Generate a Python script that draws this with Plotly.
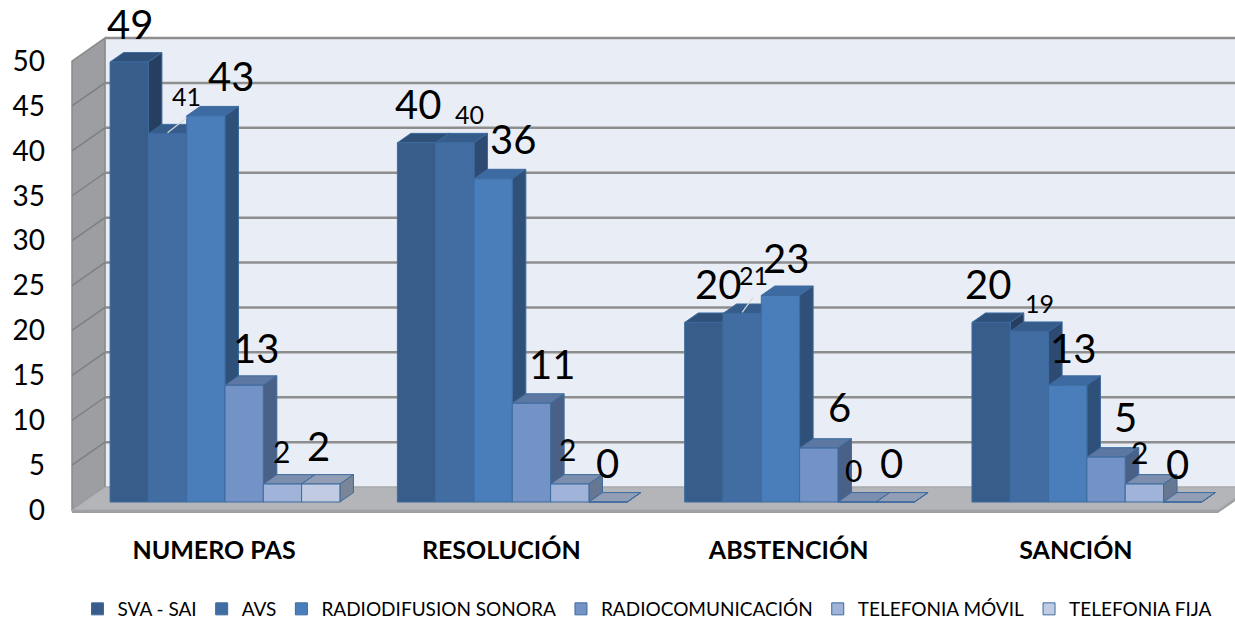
import plotly.graph_objects as go

# ---------------- data ----------------
categories = ["NUMERO PAS", "RESOLUCIÓN", "ABSTENCIÓN", "SANCIÓN"]
series_names = ["SVA - SAI", "AVS", "RADIODIFUSION SONORA",
                "RADIOCOMUNICACIÓN", "TELEFONIA MÓVIL", "TELEFONIA FIJA"]
sva_sai = [49, 40, 20, 20]
avs = [41, 40, 21, 19]
radiodifusion_sonora = [43, 36, 23, 13]
radiocomunicacion = [13, 11, 6, 5]
telefonia_movil = [2, 2, 0, 2]
telefonia_fija = [2, 0, 0, 0]
y_tick_values = [0, 5, 10, 15, 20, 25, 30, 35, 40, 45, 50]

series_values = [sva_sai, avs, radiodifusion_sonora,
                 radiocomunicacion, telefonia_movil, telefonia_fija]

# ---------------- style ----------------
FONT = "Lato"
FRONT = ["#385D8A", "#416DA3", "#4A7EBB", "#7393C7", "#A0B4D9", "#C1CCE2"]
TOP = ["#2F5079", "#365C8B", "#3D6AA0", "#5B77A2", "#7C8EAE", "#929EB5"]
SIDE = ["#263F60", "#2D4B72", "#2F5079", "#4A6187", "#667791", "#7A8598"]
OUTLINE = "#3D6B9F"
LABEL_SIZE = [40, 25, 40, 40, 30, 40]
# label offsets (px) from the centre of each bar's front top: [group][series]
LABEL_DX = [[1, 19, 25, 12, -1, -2],
            [1, 15, 20, 21, -2, -1],
            [14, 11, 6, 21, -4, -4],
            [-3, 10, 5, 19, -5, -5]]
LABEL_DY = [[38, 38, 40, 37, 33, 38],
            [39, 29, 40, 39, 35, 39],
            [38, 38, 37, 41, 32, 39],
            [38, 28, 37, 40, 32, 38]]
LEADERS = [(0, 1), (2, 1)]

W, H = 1235, 619
M_L, M_R, M_T, M_B = 60, 0, 25, 104
PX_X = 287.3     # px per category
X0_PX = 225.0    # px of first category centre (bar front plane)
Y0_PX = 502.0    # px of value 0 on bar front plane
PX_Y = 8.98      # px per value unit
BAR_GAP = 0.2
DEPTH = (33.0, 23.0)       # px shift for full box depth (right, up)
T_FRONT, T_BACK, T_BAR = -0.35, 0.65, 0.41
BOX_LEFT_PX, BOX_RIGHT_PX = 72.0, 1218.0

x_range = [(M_L - X0_PX) / PX_X, (W - M_R - X0_PX) / PX_X]
y_range = [-(H - M_B - Y0_PX) / PX_Y, (Y0_PX - M_T) / PX_Y]
plot_h = H - M_T - M_B


def proj(x, v, t):
    return x + t * DEPTH[0] / PX_X, v + t * DEPTH[1] / PX_Y


def poly(points, fill, line="rgba(0,0,0,0)", lw=1):
    d = "M " + " L ".join(f"{px:.5f},{py:.5f}" for px, py in points) + " Z"
    return dict(type="path", path=d, xref="x", yref="y", fillcolor=fill,
                line=dict(color=line, width=lw), layer="below")


def seg(p1, p2, color, lw):
    return dict(type="line", x0=p1[0], y0=p1[1], x1=p2[0], y1=p2[1],
                xref="x", yref="y", line=dict(color=color, width=lw),
                layer="below")


XL = (BOX_LEFT_PX - T_FRONT * DEPTH[0] - X0_PX) / PX_X
XR = (BOX_RIGHT_PX - T_FRONT * DEPTH[0] - X0_PX) / PX_X
VT = max(y_tick_values)

shapes = []
# back wall
shapes.append(poly([proj(XL, 0, T_BACK), proj(XR, 0, T_BACK),
                    proj(XR, VT, T_BACK), proj(XL, VT, T_BACK)],
                   "#E9EDF6", "#A6A6A6", 1))
# left wall
shapes.append(poly([proj(XL, 0, T_FRONT), proj(XL, 0, T_BACK),
                    proj(XL, VT, T_BACK), proj(XL, VT, T_FRONT)],
                   "#9D9EA2", "#8A8A8A", 1.5))
# floor thickness strip
thick = 3.0 / PX_Y
fl, fr = proj(XL, 0, T_FRONT), proj(XR, 0, T_FRONT)
br = proj(XR, 0, T_BACK)
shapes.append(poly([fl, fr, br, (br[0], br[1] - thick),
                    (fr[0], fr[1] - thick), (fl[0], fl[1] - thick)],
                   "#9E9FA3"))
# floor
shapes.append(poly([proj(XL, 0, T_FRONT), proj(XR, 0, T_FRONT),
                    proj(XR, 0, T_BACK), proj(XL, 0, T_BACK)],
                   "#B3B5B9", "#A3A5A9", 1))
# grid lines
for v in y_tick_values[1:]:
    shapes.append(seg(proj(XL, v, T_BACK), proj(XR, v, T_BACK), "#8E8E8E", 2.5))
    if v < VT:
        shapes.append(seg(proj(XL, v, T_FRONT), proj(XL, v, T_BACK), "#7E7F82", 1.5))

# 3-D faces of the bars
n = len(series_values)
bw = (1 - BAR_GAP) / n
for g in range(len(categories)):
    for i, vals in enumerate(series_values):
        v = vals[g]
        left = g - (1 - BAR_GAP) / 2 + i * bw
        right = left + bw
        shapes.append(poly([proj(left, v, 0), proj(right, v, 0),
                            proj(right, v, T_BAR), proj(left, v, T_BAR)],
                           TOP[i], OUTLINE, 1))
        shapes.append(poly([proj(right, 0, 0), proj(right, 0, T_BAR),
                            proj(right, v, T_BAR), proj(right, v, 0)],
                           SIDE[i], OUTLINE, 1))

fig = go.Figure()
for i, (name, vals) in enumerate(zip(series_names, series_values)):
    fig.add_trace(go.Bar(
        x=categories, y=vals, name=name,
        marker=dict(color=FRONT[i], line=dict(color=OUTLINE, width=1)),
        hoverinfo="x+y+name"))

annotations = []
for g in range(len(categories)):
    for i, vals in enumerate(series_values):
        v = vals[g]
        xc = g - (1 - BAR_GAP) / 2 + (i + 0.5) * bw
        annotations.append(dict(
            x=xc, y=v, xref="x", yref="y", text=str(v), showarrow=False,
            xshift=LABEL_DX[g][i], yshift=LABEL_DY[g][i],
            xanchor="center", yanchor="middle",
            font=dict(family=FONT, size=LABEL_SIZE[i], color="#000000")))
        if (g, i) in LEADERS:
            x1 = xc + LABEL_DX[g][i] / PX_X
            y1 = v + (LABEL_DY[g][i] - 22) / PX_Y
            shapes.append(dict(type="line", x0=xc, y0=v + 1.0 / PX_Y,
                               x1=x1, y1=y1, xref="x", yref="y",
                               line=dict(color="#D9D9D9", width=1.2),
                               layer="above"))

fig.update_layout(
    width=W, height=H, autosize=False,
    margin=dict(l=M_L, r=M_R, t=M_T, b=M_B, pad=0, autoexpand=False),
    paper_bgcolor="#FFFFFF", plot_bgcolor="rgba(0,0,0,0)",
    barmode="group", bargap=BAR_GAP, bargroupgap=0,
    font=dict(family=FONT, color="#000000"),
    shapes=shapes, annotations=annotations,
    showlegend=True,
    legend=dict(orientation="h", x=0.5, xanchor="center",
                yref="container", y=(H - 609) / H, yanchor="middle",
                font=dict(family=FONT, size=19, color="#000000"),
                traceorder="normal", itemclick=False,
                bgcolor="rgba(0,0,0,0)"),
    xaxis=dict(type="category", range=x_range, showgrid=False,
               zeroline=False, showline=False, ticks="", automargin=False,
               tickfont=dict(family=FONT, size=25, color="#000000", weight="bold"),
               ticklabelshift=-11, ticklabelstandoff=18),
    yaxis=dict(range=y_range, tickvals=y_tick_values, showgrid=False,
               zeroline=False, showline=False, ticks="", automargin=False,
               tickfont=dict(family=FONT, size=28, color="#000000"),
               ticklabelshift=8, ticklabelstandoff=14),
)

fig.write_html("out.html", config={"displayModeBar": False},
               post_script="document.body.style.margin='0px';")
